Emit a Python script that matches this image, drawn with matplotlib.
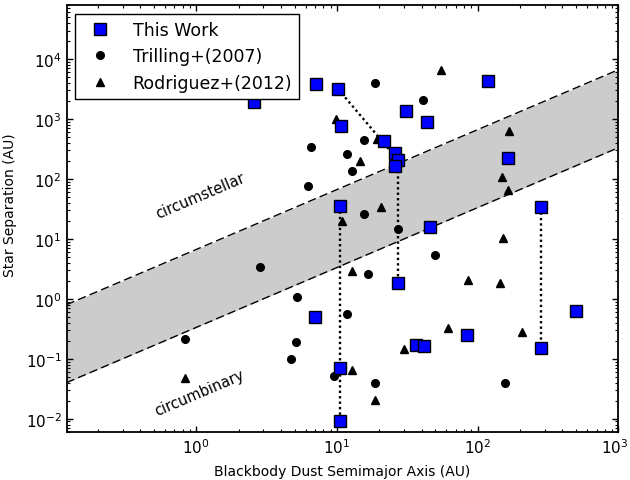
import numpy as np
import matplotlib
matplotlib.use('Agg')
import matplotlib.pyplot as plt
import matplotlib.transforms as mtransforms

# This Work (dust semimajor axis, star separation)
work_a = [2.58, 7.06, 10.2, 10.7, 21.6, 25.8, 27.1, 26.0, 31.0, 43.6, 119, 163,
          281, 281, 499, 7.03, 10.5, 10.5, 10.5, 27.1, 45.5, 36.3, 41.3, 84.5]
work_sep = [1920, 3830, 3160, 774, 435, 274, 209, 167, 1343, 902, 4250, 226,
            34.2, 0.153, 0.62, 0.49, 0.070, 0.0090, 35.9, 1.87, 16.0, 0.173, 0.165, 0.245]

# Trilling+(2007)
tril_a = [18.5, 40.7, 6.54, 6.27, 15.6, 11.7, 12.7, 15.6, 27.1, 2.86,
          5.19, 0.836, 5.08, 4.68, 11.7, 9.57, 49.4, 16.5, 18.5, 157]
tril_sep = [3980, 2097, 342, 76.4, 452, 266, 136, 26.1, 14.5, 3.37,
            1.07, 0.213, 0.190, 0.100, 0.569, 0.0507, 5.35, 2.61, 0.0398, 0.0398]

# Rodriguez+(2012)
rod_a = [55.2, 9.78, 19.3, 14.6, 166, 149, 164, 20.4, 10.9, 12.7,
         84.9, 150, 145, 62.0, 205, 30.1, 12.7, 18.5, 0.836]
rod_sep = [6506, 1020, 464, 200, 631, 107, 66.3, 33.8, 20.0, 2.96,
           2.03, 10.2, 1.83, 0.329, 0.279, 0.147, 0.0656, 0.0207, 0.047]

# systems linked with dotted lines (index pairs into the This Work arrays)
links = [(2, 6), (6, 19), (18, 17), (12, 13)]

# stability limits: separation = a / ratio
band_x = [0.12, 1000]
circumstellar_ratio = 0.15
circumbinary_ratio = 3.0

plt.rcParams['font.family'] = 'DejaVu Sans'
plt.rcParams['mathtext.fontset'] = 'dejavusans'

fig = plt.figure(figsize=(6.3, 4.81), dpi=100)
ax = fig.add_axes([0.1057, 0.0998, 0.876, 0.8877])

bx = np.array(band_x)
upper = bx / circumstellar_ratio
lower = bx / circumbinary_ratio
ax.fill_between(bx, lower, upper, color='0.8', lw=0, zorder=1)
ax.plot(bx, upper, color='k', lw=1, dashes=(6, 3), zorder=2)
ax.plot(bx, lower, color='k', lw=1, dashes=(6, 3), zorder=2)

for i, j in links:
    ax.plot([work_a[i], work_a[j]], [work_sep[i], work_sep[j]], color='k',
            lw=1.7, linestyle=(0, (1, 1.3)), zorder=3)

ax.plot(tril_a, tril_sep, 'o', color='k', ms=5.5, ls='none', zorder=4,
        label='Trilling+(2007)')
ax.plot(rod_a, rod_sep, '^', color='k', ms=6, ls='none', zorder=4,
        label='Rodriguez+(2012)')
ax.plot(work_a, work_sep, 's', mfc='#0000ff', mec='k', mew=1, ms=8.5,
        ls='none', zorder=5, label='This Work')

ax.set_xscale('log')
ax.set_yscale('log')
ax.set_xlim(0.12, 1000)
ax.set_ylim(6e-3, 8e4)

ax.text(1.07, 54, 'circumstellar', rotation=23, ha='center', va='center',
        fontsize=10.5, rotation_mode='anchor')
ax.text(1.06, 0.028, 'circumbinary', rotation=23, ha='center', va='center',
        fontsize=10.5, rotation_mode='anchor')

ax.set_xlabel('Blackbody Dust Semimajor Axis (AU)', fontsize=10)
ax.set_ylabel('Star Separation (AU)', fontsize=10)
ax.yaxis.set_label_coords(-0.09, 0.534)
ax.xaxis.set_label_coords(0.5, -0.075)
ax.tick_params(which='both', direction='in', top=True, right=True, labelsize=11)
ax.tick_params(which='major', length=4, width=1)
ax.tick_params(which='minor', length=2, width=0.8)
for s in ax.spines.values():
    s.set_linewidth(1.3)

h, l = ax.get_legend_handles_labels()
order = [2, 0, 1]
leg = ax.legend([h[k] for k in order], [l[k] for k in order], loc='upper left',
                numpoints=1, fontsize=12.5, fancybox=False, framealpha=1,
                edgecolor='k', borderaxespad=0.5, handletextpad=0.9)
leg.get_frame().set_linewidth(1)

# nudge the last x tick label so it stays inside the figure
fig.canvas.draw()
for t in ax.xaxis.get_major_ticks():
    if np.isclose(t.get_loc(), 1000):
        t.label1.set_transform(t.label1.get_transform() +
                               mtransforms.ScaledTranslation(-3 / 72, 0, fig.dpi_scale_trans))

fig.savefig('out.png', dpi=100)
